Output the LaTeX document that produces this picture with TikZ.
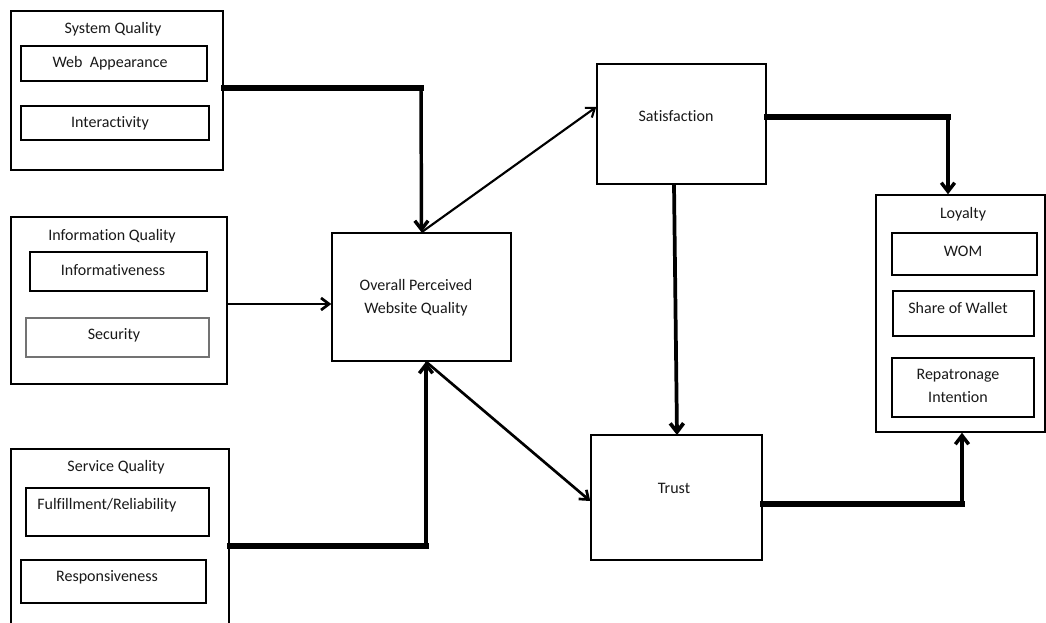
\documentclass[tikz,border=0pt]{standalone}
\usepackage{fontspec}
\setmainfont{Carlito}[Ligatures=NoCommon]
\usetikzlibrary{arrows.meta,fit}
\begin{document}
\begin{tikzpicture}[x=0.75pt,y=-0.75pt,
  font=\fontsize{12}{17}\selectfont,
  box/.style={draw, line width=1.1pt, rectangle, inner sep=0pt},
  greybox/.style={draw=black!55, line width=0.9pt, rectangle, inner sep=0pt},
  txt/.style={inner sep=0pt, align=center, text=black!90},
  heavy/.style={line width=3.9pt, line cap=rect},
  medium/.style={line width=2.6pt},
  light/.style={line width=1.6pt},
  arr/.style={-{Straight Barb[length=6.5pt,width=10pt]}},
  arrs/.style={-{Straight Barb[length=6pt,width=9pt]}}]
\clip (0,0) rectangle (1046,623);
\fill[white] (0,0) rectangle (1046,623);

% System Quality
\node[box, fit={(11,11) (223,170)}] (sys) {};
\node[txt] (systitle) at (113,29) {System Quality};
\node[box, fit={(21,46) (207,81)}] (web) {};
\node[txt] (webtxt) at (110,63) {Web\ \ Appearance};
\node[box, fit={(21,106) (209,140)}] (inter) {};
\node[txt] (intertxt) at (110,123) {Interactivity};

% Information Quality
\node[box, fit={(11,217) (227,384)}] (info) {};
\node[txt] (infotitle) at (112,236) {Information Quality};
\node[box, line width=1.4pt, fit={(30,252) (207,291)}] (infm) {};
\node[txt] (infmtxt) at (113,270) {Informativeness};
\node[greybox, fit={(26,318) (209,357)}] (sec) {};
\node[txt] (sectxt) at (114,335) {Security};

% Service Quality
\node[box, fit={(11,449) (229,640)}] (serv) {};
\node[txt] (servtitle) at (116,467) {Service Quality};
\node[box, fit={(26,488) (209,536)}] (ful) {};
\node[txt, anchor=west] (fultxt) at (37,505) {Fulfillment/Reliability};
\node[box, fit={(21,560) (206,603)}] (resp) {};
\node[txt] (resptxt) at (107,577) {Responsiveness};

% Overall Perceived Website Quality
\node[box, fit={(332,233) (511,361)}] (opwq) {};
\node[txt] (opwqtxt) at (416,298) {Overall Perceived\\Website Quality};

% Satisfaction
\node[box, fit={(597,64) (766,184)}] (sat) {};
\node[txt] (sattxt) at (676,116) {Satisfaction};

% Trust
\node[box, fit={(591,435) (762,560)}] (trust) {};
\node[txt] (trusttxt) at (674,488) {Trust};

% Loyalty
\node[box, fit={(876,195) (1045,432)}] (loy) {};
\node[txt] (loytitle) at (963,214) {Loyalty};
\node[box, fit={(892,233) (1037,275)}] (wom) {};
\node[txt] (womtxt) at (963,251) {WOM};
\node[box, fit={(893,291) (1034,336)}] (share) {};
\node[txt] (sharetxt) at (958,308) {Share of Wallet};
\node[box, fit={(892,358) (1034,417)}] (rep) {};
\node[txt] (reptxt) at (958,386) {Repatronage\\Intention};

% connector coordinates
\coordinate (c1) at (421,88);
\coordinate (yinfo) at (0,304);
\coordinate (c3) at (426,546);
\coordinate (ysat) at (0,107);
\coordinate (ytrust) at (0,501);
\coordinate (c6) at (948,117);
\coordinate (c8) at (962,504);
\coordinate (s1) at (674,184);
\coordinate (s2) at (677,435);

% System -> OPWQ
\draw[heavy] (sys.east |- c1) -- (c1);
\draw[medium, arr] (c1) -- (opwq.north);
% Information -> OPWQ
\draw[light, line width=2pt, arrs] (info.east |- yinfo) -- (opwq.west |- yinfo);
% Service -> OPWQ
\draw[heavy] (serv.east |- c3) -- (c3);
\draw[medium, arr] (c3) -- (c3 |- opwq.south);
% OPWQ -> Satisfaction
\draw[light, arrs] (opwq.north) -- (sat.west |- ysat);
% OPWQ -> Trust
\draw[light, line width=2pt, arrs] (c3 |- opwq.south) -- (trust.west |- ytrust);
% Satisfaction -> Loyalty
\draw[heavy] (sat.east |- c6) -- (c6);
\draw[medium, arr] (c6) -- (c6 |- loy.north);
% Satisfaction -> Trust
\draw[medium, line width=2.8pt, arr] (s1) -- (s2);
% Trust -> Loyalty
\draw[heavy] (trust.east |- c8) -- (c8);
\draw[medium, arr] (c8) -- (c8 |- loy.south);
\end{tikzpicture}
\end{document}
